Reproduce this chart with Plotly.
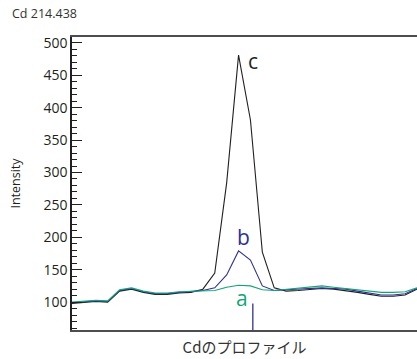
import plotly.graph_objects as go

# sample positions along the profile
positions = list(range(30))

intensity_c = [98, 99, 101, 100, 117, 120, 115, 112, 112, 114, 115, 120, 145, 284, 481, 381, 177, 122,
               117, 118, 120, 121, 120, 118, 115, 112, 109, 109, 111, 120]
intensity_b = [99, 100, 102, 101, 118, 121, 116, 113, 113, 115, 116, 118, 122, 142, 179, 165, 125, 118,
               119, 120, 121, 122, 121, 120, 117, 114, 111, 111, 113, 121]
intensity_a = [100, 101, 103, 102, 119, 122, 117, 114, 114, 116, 117, 117, 118, 123, 126, 125, 119, 118,
               120, 121, 124, 125, 123, 121, 119, 117, 115, 115, 116, 122]

series_names = ["c", "b", "a"]
series_colors = ["#231f20", "#2e3192", "#12a574"]
label_x = [15.2, 14.4, 14.3]
label_y = [472, 201, 106]
marker_x = 15.2
marker_top = 98

title_text = "Cd 214.438"
y_title = "Intensity"
x_title = "Cdのプロファイル"

fig = go.Figure()
for name, vals, col in zip(series_names, [intensity_c, intensity_b, intensity_a], series_colors):
    fig.add_trace(go.Scatter(x=positions, y=vals, mode="lines", name=name,
                             line=dict(color=col, width=1.1), showlegend=False))

for name, col, lx, ly in zip(series_names, series_colors, label_x, label_y):
    fig.add_annotation(x=lx, y=ly, text=name, showarrow=False,
                       font=dict(family="Open Sans, sans-serif", size=21, color=col))

fig.add_shape(type="line", xref="x", yref="y", x0=marker_x, x1=marker_x, y0=57, y1=marker_top,
              line=dict(color="#2e3192", width=1.3))

fig.update_layout(
    width=417, height=359,
    margin=dict(l=72, r=0, t=37, b=29),
    paper_bgcolor="white", plot_bgcolor="white",
    font=dict(family="Open Sans, Noto Sans CJK JP, sans-serif", color="#231f20"),
    annotations=list(fig.layout.annotations) + [
        dict(text=title_text, xref="paper", yref="paper", x=-0.18, y=1.0, yshift=24,
             xanchor="left", yanchor="middle", showarrow=False,
             font=dict(family="Open Sans, sans-serif", size=12.5, color="#333333"))
    ],
)

fig.update_xaxes(range=[0, 29], showgrid=False, zeroline=False, showticklabels=False, ticks="",
                 showline=True, linecolor="#4d4d4d", linewidth=1.6, mirror=True,
                 title=dict(text=x_title, standoff=12,
                            font=dict(family="Noto Sans CJK JP, sans-serif", size=15, color="#333333")))
fig.update_yaxes(range=[57, 509], showgrid=False, zeroline=False,
                 tickvals=[100, 150, 200, 250, 300, 350, 400, 450, 500],
                 ticks="inside", ticklen=10, tickwidth=1.3, tickcolor="#231f20",
                 minor=dict(dtick=10, ticks="inside", ticklen=5, tickwidth=1, tickcolor="#231f20"),
                 showline=True, linecolor="#231f20", linewidth=1.6, mirror=False,
                 tickfont=dict(family="Open Sans, sans-serif", size=14, color="#231f20"),
                 title=dict(text=y_title, standoff=20,
                            font=dict(family="Open Sans, sans-serif", size=12.5, color="#231f20")))

fig.write_html("out.html")
